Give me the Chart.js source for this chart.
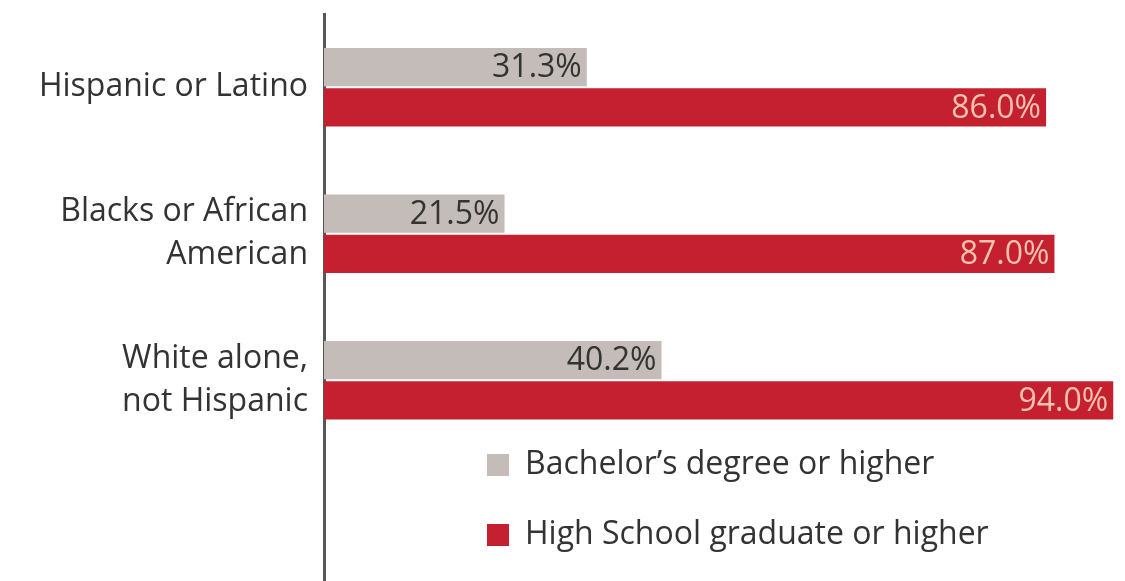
<!DOCTYPE html>
<html>
<head>
<meta charset="utf-8">
<script src="https://cdn.jsdelivr.net/npm/chart.js@4/dist/chart.umd.min.js"></script>
<style>
  html, body { margin: 0; padding: 0; background: #fff; overflow: hidden; }
</style>
</head>
<body>
<canvas id="eduChart" width="1125" height="600"></canvas>
<script>
// groups on the y axis (last slot left empty to make room for the legend)
const categories = [
  ['Hispanic or Latino'],
  ['Blacks or African', 'American'],
  ['White alone,', 'not Hispanic'],
  ''
];
const seriesNames = ['Bachelor\u2019s degree or higher', 'High School graduate or higher'];
const bachelorPct = [31.3, 21.5, 40.2, null];
const highSchoolPct = [86.0, 87.0, 94.0, null];

const FONT = '"Open Sans", "Noto Sans", sans-serif';

// prints the value at the inner end of each bar
const valueLabels = {
  id: 'valueLabels',
  afterDatasetsDraw(chart) {
    const ctx = chart.ctx;
    ctx.save();
    ctx.font = '32px ' + FONT;
    ctx.textAlign = 'right';
    ctx.textBaseline = 'middle';
    chart.data.datasets.forEach((ds, i) => {
      chart.getDatasetMeta(i).data.forEach((bar, j) => {
        const v = ds.data[j];
        if (v == null) return;
        ctx.fillStyle = ds.valueColor;
        ctx.fillText(v.toFixed(1) + '%', bar.x - 5, bar.y + 1);
      });
    });
    ctx.restore();
  }
};

// legend sits inside the plot, below the last group
const legendSpot = {
  id: 'legendSpot',
  afterLayout(chart) {
    const lg = chart.legend;
    lg.left = 449;
    lg.bottom = 589;
  }
};

new Chart(document.getElementById('eduChart'), {
  type: 'bar',
  data: {
    labels: categories,
    datasets: [
      {
        label: seriesNames[0],
        data: bachelorPct,
        backgroundColor: '#c3bcb8',
        valueColor: '#333333',
        borderWidth: 0,
        barPercentage: 0.95,
        categoryPercentage: 0.55
      },
      {
        label: seriesNames[1],
        data: highSchoolPct,
        backgroundColor: '#c5202f',
        valueColor: '#f6c3b0',
        borderWidth: 0,
        barPercentage: 0.95,
        categoryPercentage: 0.55
      }
    ]
  },
  options: {
    indexAxis: 'y',
    responsive: false,
    animation: false,
    layout: { padding: { top: 14, left: 0, right: 0, bottom: 0 } },
    scales: {
      x: {
        display: false,
        min: 0,
        max: 95.4
      },
      y: {
        z: 1,
        grid: { display: false, drawTicks: false },
        border: { display: true, color: '#5b5656', width: 3 },
        ticks: {
          color: '#333333',
          padding: 16,
          font: { family: FONT, size: 32, lineHeight: 1.35 }
        },
        afterFit(scale) {
          scale.width = 324;
          scale.paddingTop = 0;
          scale.paddingBottom = 0;
        }
      }
    },
    plugins: {
      legend: {
        position: 'chartArea',
        align: 'end',
        labels: {
          boxWidth: 22,
          boxHeight: 22,
          padding: 38,
          color: '#333333',
          font: { family: FONT, size: 32 }
        }
      },
      tooltip: { enabled: false }
    }
  },
  plugins: [valueLabels, legendSpot]
});
</script>
</body>
</html>
